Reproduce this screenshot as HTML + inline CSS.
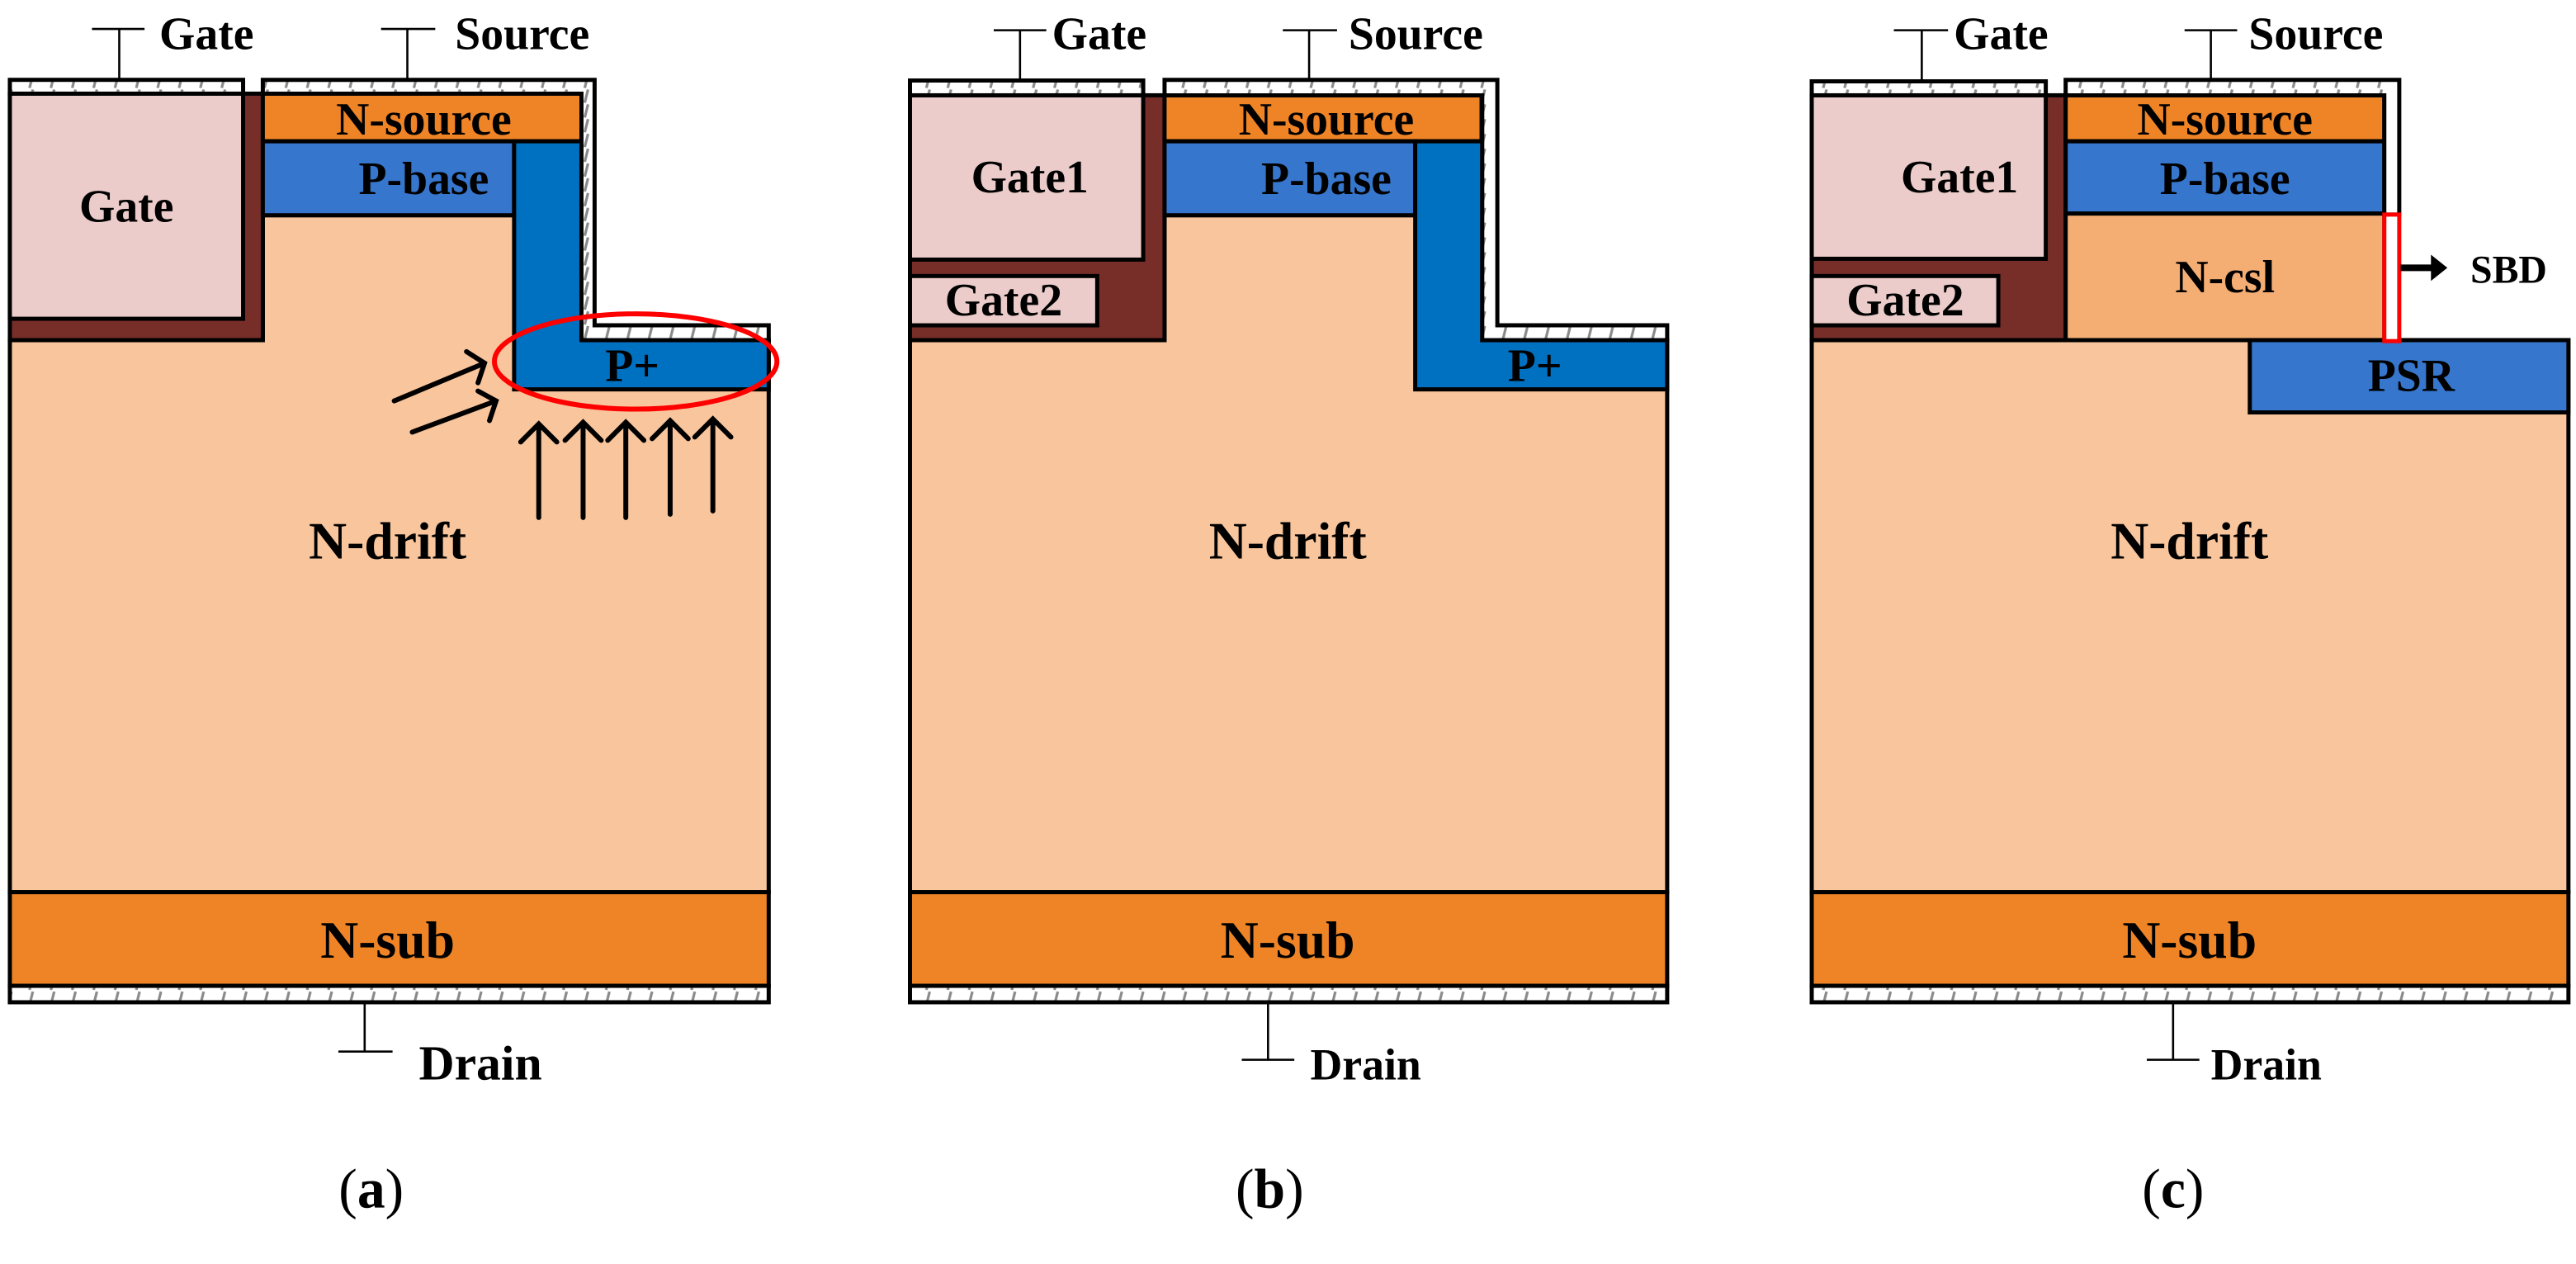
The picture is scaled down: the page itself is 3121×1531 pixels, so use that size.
<!DOCTYPE html>
<html><head><meta charset="utf-8"><style>
html,body{margin:0;padding:0;background:#fff;}
svg{display:block;}
svg text{font-family:"Liberation Serif","Times New Roman",serif;font-weight:bold;fill:#000;}
</style></head><body>
<svg width="3121" height="1531" viewBox="0 0 1568.3 769.3" preserveAspectRatio="none" xmlns="http://www.w3.org/2000/svg" font-family="Liberation Serif, serif">
<defs>
<pattern id="h" patternUnits="userSpaceOnUse" width="13" height="9">
<rect width="13" height="9" fill="#fff"/>
<line x1="5" y1="8.5" x2="7" y2="0.5" stroke="#8a8a8a" stroke-width="1.6"/>
</pattern>
</defs>
<g stroke="#000" stroke-width="2.5" stroke-linejoin="miter">
<!-- ===== (a) ===== -->
<polygon points="6,207 160,207 160,131 354,131 354,207 468,207 468,543 6,543" fill="#F8C59C"/>
<rect x="6" y="57" width="154" height="150" fill="#772E29"/>
<rect x="6" y="57" width="142" height="137" fill="#EBCCCA"/>
<rect x="160" y="57" width="194" height="29" fill="#EF8427"/>
<rect x="160" y="86" width="153" height="45" fill="#3676CC"/>
<polygon points="313,86 354,86 354,207 468,207 468,237 313,237" fill="#0070C0"/>
<rect x="6" y="48.6" width="142" height="8.4" fill="url(#h)"/>
<polygon points="160,48.6 362,48.6 362,198 468,198 468,207 354,207 354,57 160,57" fill="url(#h)"/>
<rect x="6" y="543" width="462" height="57" fill="#EF8427"/>
<rect x="6" y="600" width="462" height="10" fill="url(#h)"/>

<!-- ===== (b) ===== -->
<polygon points="554,207 709,207 709,131 902,131 902,207 1015,207 1015,543 554,543" fill="#F8C59C"/>
<rect x="554" y="58" width="155" height="149" fill="#772E29"/>
<rect x="554" y="58" width="142" height="100" fill="#EBCCCA"/>
<rect x="554" y="168" width="114" height="30" fill="#EBCCCA"/>
<rect x="709" y="58" width="193" height="28" fill="#EF8427"/>
<rect x="709" y="86" width="152.6" height="45" fill="#3676CC"/>
<polygon points="861.6,86 902.4,86 902.4,207 1015,207 1015,237 861.6,237" fill="#0070C0"/>
<rect x="554" y="49" width="142" height="9" fill="url(#h)"/>
<polygon points="709,48.6 911.6,48.6 911.6,198 1015,198 1015,207 902.4,207 902.4,58 709,58" fill="url(#h)"/>
<rect x="554" y="543" width="461" height="57" fill="#EF8427"/>
<rect x="554" y="600" width="461" height="10" fill="url(#h)"/>

<!-- ===== (c) ===== -->
<rect x="1103" y="207" width="460.7" height="336" fill="#F8C59C"/>
<rect x="1103" y="58" width="154.6" height="149" fill="#772E29"/>
<rect x="1103" y="58" width="142.5" height="99.5" fill="#EBCCCA"/>
<rect x="1103" y="168" width="113.6" height="30" fill="#EBCCCA"/>
<rect x="1257.6" y="58" width="194" height="28" fill="#EF8427"/>
<rect x="1257.6" y="86" width="194" height="44" fill="#3676CC"/>
<rect x="1257.6" y="130" width="194" height="77" fill="#F4AE74"/>
<rect x="1369.7" y="207" width="194" height="44" fill="#3676CC"/>
<rect x="1103" y="49.5" width="142.5" height="8.5" fill="url(#h)"/>
<polygon points="1257.6,48.6 1460.7,48.6 1460.7,130.6 1451.6,130.6 1451.6,58 1257.6,58" fill="url(#h)"/>
<rect x="1103" y="543" width="460.7" height="57" fill="#EF8427"/>
<rect x="1103" y="600" width="460.7" height="10" fill="url(#h)"/>
</g>
<rect x="1451.6" y="130.6" width="9.1" height="77" fill="url(#h)" stroke="#FF0000" stroke-width="2.5"/>

<!-- terminals -->
<g stroke="#000" stroke-width="1.3" fill="none">
<path d="M72.6,48 V17.6 M56,17.6 H88"/>
<path d="M248,48 V17.6 M232,17.6 H265"/>
<path d="M222,610 V640 M206,640 H239"/>
<path d="M621,49 V18.4 M605,18.4 H637"/>
<path d="M797,48 V18.4 M781,18.4 H814"/>
<path d="M772,610 V645 M756,645 H788"/>
<path d="M1170,49 V18.4 M1153,18.4 H1186"/>
<path d="M1346,48 V18.4 M1330,18.4 H1362"/>
<path d="M1323,610 V645 M1307,645 H1339"/>
</g>

<!-- arrows (a) -->
<g stroke="#000" stroke-width="3" fill="none" stroke-linecap="round">
<path d="M240,244 L295,221 M284,214 L295,221 L291,233"/>
<path d="M251,263 L302,244 M291,238 L302,244 L298,256"/>
<path d="M328,315 V258 M317,269 L328,258 L339,269"/>
<path d="M355,315 V257 M344,268 L355,257 L366,268"/>
<path d="M381,315 V257 M370,268 L381,257 L392,268"/>
<path d="M408,313 V256 M397,267 L408,256 L419,267"/>
<path d="M434,311 V255 M423,266 L434,255 L445,266"/>
</g>
<ellipse cx="387" cy="220" rx="86" ry="29" fill="none" stroke="#FF0000" stroke-width="3"/>

<!-- SBD arrow -->
<path d="M1461.5,163 H1482" stroke="#000" stroke-width="4"/>
<polygon points="1480,155 1490,163 1480,171" fill="#000"/>

<!-- labels -->
<g font-size="28" font-weight="bold">
<text x="97" y="30">Gate</text>
<text x="277" y="30">Source</text>
<text x="77" y="135" text-anchor="middle">Gate</text>
<text x="258" y="82" text-anchor="middle">N-source</text>
<text x="258" y="118" text-anchor="middle">P-base</text>
<text x="385" y="232" text-anchor="middle">P+</text>

<text x="640.5" y="30">Gate</text>
<text x="821" y="30">Source</text>
<text x="627" y="117" text-anchor="middle">Gate1</text>
<text x="611" y="192" text-anchor="middle">Gate2</text>
<text x="807.5" y="82" text-anchor="middle">N-source</text>
<text x="807.5" y="118" text-anchor="middle">P-base</text>
<text x="934.5" y="232" text-anchor="middle">P+</text>

<text x="1189.5" y="30">Gate</text>
<text x="1369" y="30">Source</text>
<text x="1193" y="117" text-anchor="middle">Gate1</text>
<text x="1160" y="192" text-anchor="middle">Gate2</text>
<text x="1354.6" y="82" text-anchor="middle">N-source</text>
<text x="1354.6" y="118" text-anchor="middle">P-base</text>
<text x="1354.6" y="178" text-anchor="middle">N-csl</text>
<text x="1468" y="238" text-anchor="middle">PSR</text>
<text x="797.7" y="657" font-size="27">Drain</text>
<text x="1346" y="657" font-size="27">Drain</text>
</g>
<text x="1504" y="172" font-size="24" font-weight="bold">SBD</text>
<text x="255" y="657" font-size="30" font-weight="bold">Drain</text>
<g font-size="32" text-anchor="middle" font-weight="bold">
<text x="236" y="340">N-drift</text>
<text x="784" y="340">N-drift</text>
<text x="1333" y="340">N-drift</text>
<text x="236" y="583">N-sub</text>
<text x="784" y="583">N-sub</text>
<text x="1333" y="583">N-sub</text>
</g>
<g font-size="34" text-anchor="middle" font-weight="bold">
<text x="226" y="735"><tspan font-weight="normal">(</tspan>a<tspan font-weight="normal">)</tspan></text>
<text x="773" y="735"><tspan font-weight="normal">(</tspan>b<tspan font-weight="normal">)</tspan></text>
<text x="1323" y="735"><tspan font-weight="normal">(</tspan>c<tspan font-weight="normal">)</tspan></text>
</g>
</svg>
</body></html>
